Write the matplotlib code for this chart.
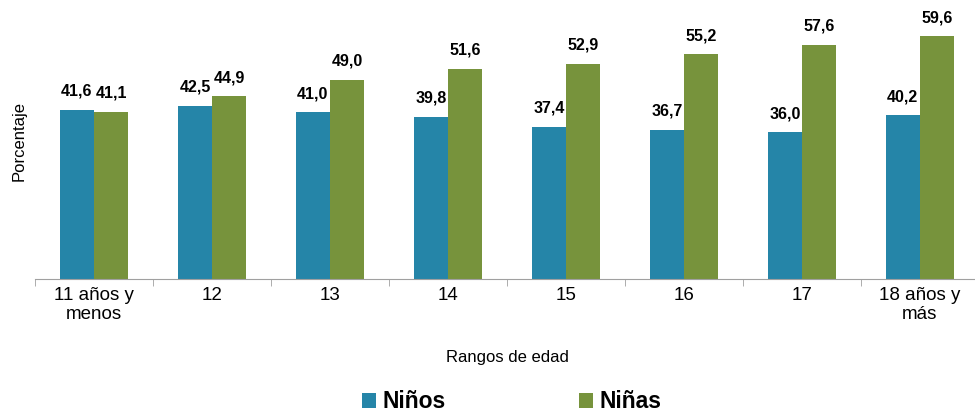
import numpy as np
import matplotlib
matplotlib.use("Agg")
import matplotlib.pyplot as plt

# Datos
categorias = ["11 años y\nmenos", "12", "13", "14", "15", "16", "17", "18 años y\nmás"]
ninos = [41.6, 42.5, 41.0, 39.8, 37.4, 36.7, 36.0, 40.2]
ninas = [41.1, 44.9, 49.0, 51.6, 52.9, 55.2, 57.6, 59.6]

azul = "#2585A8"
verde = "#77933C"

plt.rcParams["font.family"] = ["Liberation Sans", "DejaVu Sans"]

fig = plt.figure(figsize=(9.75, 4.13), dpi=100)
ax = fig.add_axes([0.036, 0.3245, 0.968, 0.67])

x = np.arange(len(categorias))
w = 0.29
b1 = ax.bar(x - w / 2, ninos, w, color=azul, label="Niños")
b2 = ax.bar(x + w / 2, ninas, w, color=verde, label="Niñas")

# Etiquetas de valores
for bars in (b1, b2):
    for rect in bars:
        v = rect.get_height()
        ax.annotate(f"{v:.1f}".replace(".", ","),
                    (rect.get_x() + rect.get_width() / 2, v),
                    xytext=(0, 8), textcoords="offset points",
                    ha="center", va="bottom", fontsize=11.5, fontweight="bold")

ax.set_xlim(-0.5, len(categorias) - 0.5)
ax.set_ylim(0, 68)

for s in ["top", "right", "left"]:
    ax.spines[s].set_visible(False)
ax.spines["bottom"].set_color("#A0A0A0")
ax.set_yticks([])

ax.set_xticks(x)
ax.set_xticklabels(categorias, fontsize=13.5, linespacing=1.1)
ax.tick_params(axis="x", which="major", length=0, pad=6)
ax.set_xticks(np.arange(-0.5, len(categorias), 1), minor=True)
ax.tick_params(axis="x", which="minor", length=5, color="#A0A0A0")

ax.set_ylabel("Porcentaje", fontsize=12, labelpad=6)
ax.set_xlabel("Rangos de edad", fontsize=12, labelpad=20)

fig.legend(handles=[b1, b2], loc="center", bbox_to_anchor=(0.525, 0.027), ncol=2,
           frameon=False, prop={"weight": "bold", "size": 16.5},
           handlelength=0.6, handleheight=0.6, handletextpad=0.3, columnspacing=5.8)

fig.savefig("out.png", dpi=100)
